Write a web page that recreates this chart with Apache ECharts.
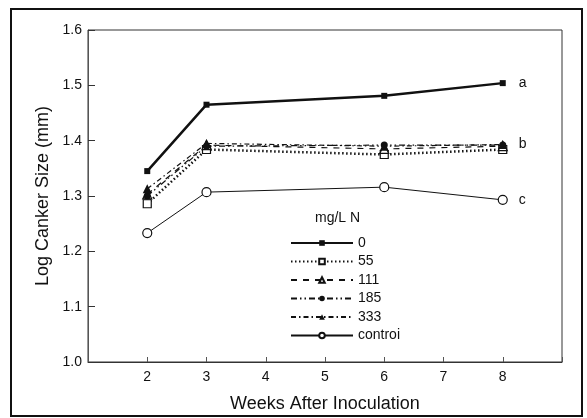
<!DOCTYPE html>
<html>
<head>
<meta charset="utf-8">
<script src="https://cdn.jsdelivr.net/npm/echarts@6/dist/echarts.min.js"></script>
<style>
  html, body { margin: 0; padding: 0; background: #fff; }
  #chart { width: 587px; height: 418px; }
</style>
</head>
<body>
<div id="chart"></div>
<script>
// weeks after inoculation
const weeks = [2, 3, 6, 8]
const seriesNames = ['0', '55', '111', '185', '333', 'controi']
const n0 = [1.345, 1.465, 1.481, 1.504]
const n55 = [1.286, 1.384, 1.375, 1.384]
const n111 = [1.303, 1.392, 1.385, 1.390]
const n185 = [1.300, 1.390, 1.392, 1.392]
const n333 = [1.313, 1.395, 1.390, 1.393]
const control = [1.233, 1.307, 1.316, 1.293]
const endLetters = ['a', '', '', '', 'b', 'c']
const xTicks = [2, 3, 4, 5, 6, 7, 8]

const font = 'Liberation Sans'
const chart = echarts.init(document.getElementById('chart'))

function pts (vals) {
  return weeks.map((w, i) => [w, vals[i]])
}

function line (name, vals, opts) {
  let s = {
    name: name,
    type: 'line',
    data: pts(vals),
    symbol: opts.symbol,
    symbolSize: opts.size,
    itemStyle: {
      color: opts.fill,
      borderColor: '#111',
      borderWidth: opts.border || 0
    },
    lineStyle: {
      color: '#111',
      width: opts.width,
      type: opts.type
    },
    z: opts.z || 2
  }
  if (opts.letter) {
    s.endLabel = {
      show: true,
      formatter: opts.letter,
      distance: 16,
      color: '#111',
      fontFamily: font,
      fontSize: 14
    }
  }
  return s
}

const option = {
  animation: false,
  backgroundColor: '#fff',
  grid: {
    left: 88,
    right: 25,
    top: 30,
    bottom: 56,
    show: true,
    borderColor: '#333',
    borderWidth: 1
  },
  legend: {
    orient: 'vertical',
    left: 285,
    top: 231,
    itemWidth: 62,
    itemHeight: 7,
    itemGap: 4.5,
    data: seriesNames,
    textStyle: {
      color: '#111',
      fontFamily: font,
      fontSize: 14,
      lineHeight: 14
    }
  },
  graphic: [
    {
      type: 'text',
      left: 315,
      top: 211,
      style: { text: 'mg/L N', fill: '#111', font: '14px "Liberation Sans"' }
    },
    {
      type: 'rect',
      shape: { x: 11, y: 9, width: 571, height: 407 },
      style: { fill: 'none', stroke: '#111', lineWidth: 2 }
    }
  ],
  xAxis: {
    type: 'value',
    min: 1,
    max: 9,
    interval: 1,
    name: 'Weeks After Inoculation',
    nameLocation: 'middle',
    nameGap: 33,
    nameTextStyle: { color: '#111', fontFamily: font, fontSize: 18 },
    axisLine: { lineStyle: { color: '#333', width: 1 } },
    axisTick: { inside: true, length: 5, lineStyle: { color: '#555' } },
    axisLabel: {
      color: '#111',
      fontFamily: font,
      fontSize: 14,
      margin: 8,
      formatter: v => (xTicks.indexOf(v) >= 0 ? String(v) : '')
    },
    splitLine: { show: false }
  },
  yAxis: {
    type: 'value',
    min: 1.0,
    max: 1.6,
    interval: 0.1,
    name: 'Log Canker Size (mm)',
    nameLocation: 'middle',
    nameGap: 35,
    nameTextStyle: { color: '#111', fontFamily: font, fontSize: 18 },
    axisLine: { show: true, lineStyle: { color: '#555', width: 1 } },
    axisTick: { inside: true, length: 7, lineStyle: { color: '#333' } },
    axisLabel: {
      color: '#111',
      fontFamily: font,
      fontSize: 14,
      margin: 6,
      formatter: v => v.toFixed(1)
    },
    splitLine: { show: false }
  },
  series: [
    line(seriesNames[0], n0, { symbol: 'rect', size: 6, fill: '#111', width: 2.5, type: 'solid', letter: endLetters[0], z: 5 }),
    line(seriesNames[1], n55, { symbol: 'rect', size: 8, fill: '#fff', border: 1.2, width: 2.5, type: [1.5, 2.5] }),
    line(seriesNames[2], n111, { symbol: 'triangle', size: 9, fill: '#fff', border: 1.2, width: 1.2, type: [6, 6] }),
    line(seriesNames[3], n185, { symbol: 'circle', size: 7, fill: '#111', width: 1.2, type: [6, 3, 1.5, 3, 1.5, 3] }),
    line(seriesNames[4], n333, { symbol: 'triangle', size: 9, fill: '#111', width: 1.2, type: [5, 3, 1.5, 3], letter: endLetters[4] }),
    line(seriesNames[5], control, { symbol: 'circle', size: 9, fill: '#fff', border: 1.2, width: 1, type: 'solid', letter: endLetters[5] })
  ]
}

chart.setOption(option)
</script>
</body>
</html>
